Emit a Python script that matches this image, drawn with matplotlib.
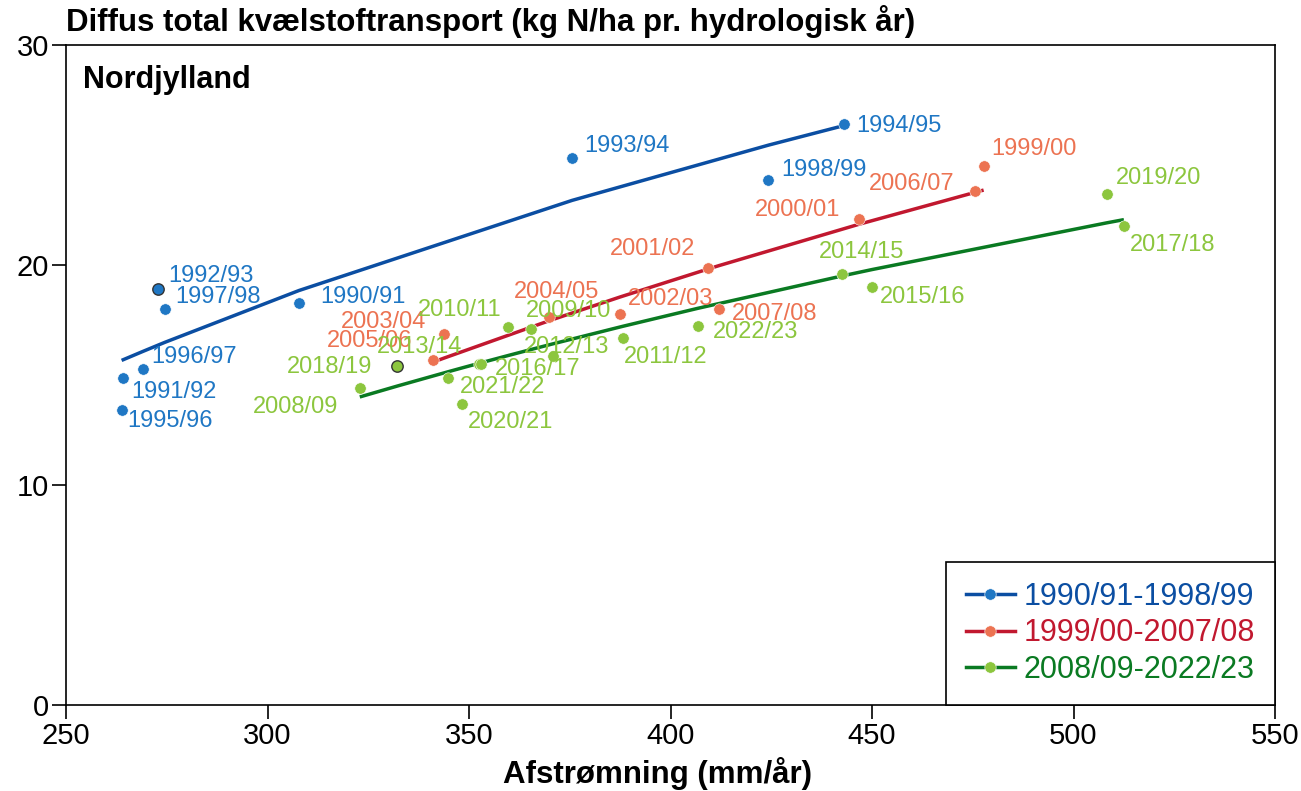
import numpy as np
import matplotlib
matplotlib.use("Agg")
import matplotlib.pyplot as plt
from matplotlib.lines import Line2D

plt.rcParams['font.family'] = ['Liberation Sans', 'DejaVu Sans']

# Afstrømning (mm/år) and diffus N-transport (kg N/ha) per hydrologisk år
years_a = ["1990/91", "1991/92", "1992/93", "1993/94", "1994/95",
           "1995/96", "1996/97", "1997/98", "1998/99"]
runoff_a = [307.8, 264.1, 272.9, 375.6, 443.0, 263.8, 269.0, 274.6, 424.3]
nitrogen_a = [18.29, 14.85, 18.91, 24.88, 26.39, 13.41, 15.26, 17.99, 23.85]

years_b = ["1999/00", "2000/01", "2001/02", "2002/03", "2003/04",
           "2004/05", "2005/06", "2006/07", "2007/08"]
runoff_b = [477.7, 446.7, 409.4, 387.5, 343.7, 369.9, 341.0, 475.6, 412.1]
nitrogen_b = [24.49, 22.08, 19.88, 17.77, 16.86, 17.62, 15.67, 23.35, 17.99]

years_c = ["2008/09", "2009/10", "2010/11", "2011/12", "2012/13",
           "2013/14", "2014/15", "2015/16", "2016/17", "2017/18",
           "2018/19", "2019/20", "2020/21", "2021/22", "2022/23"]
runoff_c = [322.9, 365.4, 359.8, 388.1, 370.9, 352.6, 442.6, 450.0,
            353.1, 512.5, 332.2, 508.3, 348.3, 344.9, 406.8]
nitrogen_c = [14.42, 17.09, 17.17, 16.70, 15.88, 15.51, 19.58, 19.01,
              15.49, 21.79, 15.42, 23.21, 13.68, 14.88, 17.23]

period_labels = ["1990/91-1998/99", "1999/00-2007/08", "2008/09-2022/23"]
highlighted = ["1992/93", "2018/19"]

# label placement: (dx, dy) in pixels from the dot, horizontal alignment
offsets = {
    "1990/91": (21, 6, "left"), "1991/92": (8, -14, "left"),
    "1992/93": (10, 13, "left"), "1993/94": (12, 12, "left"),
    "1994/95": (12, -2, "left"), "1995/96": (6, -11, "left"),
    "1996/97": (9, 12, "left"), "1997/98": (10, 12, "left"),
    "1998/99": (13, 10, "left"),
    "1999/00": (8, 17, "left"), "2000/01": (-18, 9, "right"),
    "2001/02": (-13, 19, "right"), "2002/03": (8, 15, "left"),
    "2003/04": (-17, 12, "right"), "2004/05": (7, 25, "center"),
    "2005/06": (-20, 19, "right"), "2006/07": (-21, 7, "right"),
    "2007/08": (13, -5, "left"),
    "2008/09": (-22, -19, "right"), "2009/10": (-5, 18, "left"),
    "2010/11": (-7, 17, "right"), "2011/12": (1, -19, "left"),
    "2012/13": (-29, 9, "left"), "2013/14": (-17, 17, "right"),
    "2014/15": (-23, 22, "left"), "2015/16": (8, -10, "left"),
    "2016/17": (13, -5, "left"), "2017/18": (6, -19, "left"),
    "2018/19": (-25, -1, "right"), "2019/20": (9, 16, "left"),
    "2020/21": (6, -18, "left"), "2021/22": (11, -9, "left"),
    "2022/23": (15, -6, "left"),
}

groups = [
    (years_a, runoff_a, nitrogen_a, "#0B4EA2", "#1F77C4", "#1F77C4"),
    (years_b, runoff_b, nitrogen_b, "#C1182F", "#EC7352", "#EC7352"),
    (years_c, runoff_c, nitrogen_c, "#0A7A22", "#8CC63E", "#8CC63E"),
]

fig = plt.figure(figsize=(13.01, 7.91), dpi=100)
ax = fig.add_axes([66 / 1301, 86 / 791, (1275 - 66) / 1301, (705 - 45) / 791])

handles = []
for years, xs, ys, line_col, dot_col, text_col in groups:
    x = np.asarray(xs)
    y = np.asarray(ys)
    # logarithmic trend, evaluated at the observed runoff values
    a, b = np.polyfit(np.log(x), y, 1)
    xs_sorted = np.sort(x)
    ax.plot(xs_sorted, a * np.log(xs_sorted) + b, color=line_col, lw=2.5,
            solid_capstyle="butt", zorder=2)
    for yr, xi, yi in zip(years, x, y):
        edge = "#333333" if yr in highlighted else "white"
        ew = 1.0 if yr in highlighted else 0.4
        ax.plot(xi, yi, "o", ms=8.2, mfc=dot_col, mec=edge, mew=ew, zorder=3)
        dx, dy, ha = offsets[yr]
        ax.annotate(yr, (xi, yi), xytext=(dx, dy), textcoords="offset pixels",
                    ha=ha, va="center", fontsize=17, color=text_col, zorder=4)
    handles.append(Line2D([0], [0], color=line_col, lw=2.5, marker="o", ms=8.2,
                          mfc=dot_col, mec="white", mew=0.4))

ax.set_xlim(250, 550)
ax.set_ylim(0, 30)
ax.set_xticks(np.arange(250, 551, 50))
ax.set_yticks([0, 10, 20, 30])
ax.tick_params(labelsize=21, length=10, width=1.2, direction="out", pad=2)
for sp in ax.spines.values():
    sp.set_linewidth(1.2)

fig.text(657.5 / 1301, 1 - 773 / 791, "Afstrømning (mm/år)",
         fontsize=22.5, fontweight="bold", ha="center", va="center")
fig.text(66 / 1301, 1 - 22 / 791, "Diffus total kvælstoftransport (kg N/ha pr. hydrologisk år)",
         fontsize=22.5, fontweight="bold", ha="left", va="center")
fig.text(83 / 1301, 1 - 80 / 791, "Nordjylland",
         fontsize=22, fontweight="bold", ha="left", va="center")

leg = ax.legend(handles, period_labels, loc="lower right", bbox_to_anchor=(1, 0),
                borderaxespad=0, fancybox=False, edgecolor="black", fontsize=22,
                handlelength=1.6, handletextpad=0.3, labelspacing=0.22,
                borderpad=0.65, framealpha=1)
leg.get_frame().set_linewidth(1.2)
for txt, (_, _, _, line_col, _, _) in zip(leg.get_texts(), groups):
    txt.set_color(line_col)

fig.savefig("out.png", dpi=100)
